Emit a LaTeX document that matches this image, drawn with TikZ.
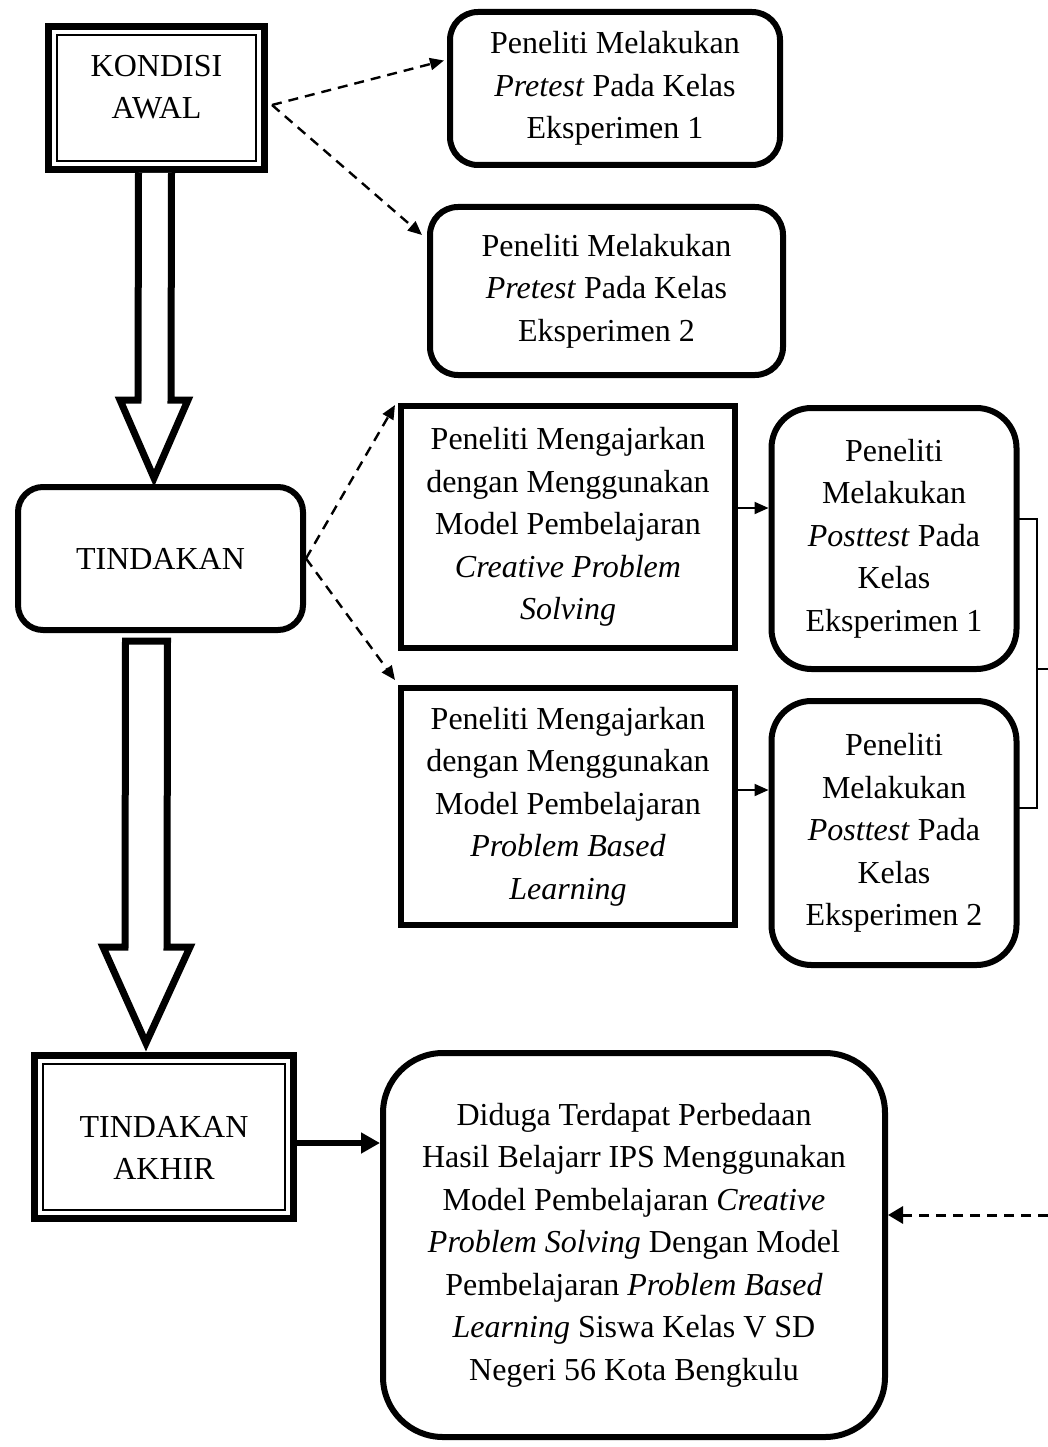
\documentclass[tikz,border=0pt]{standalone}
\usepackage{fontspec}
\setmainfont{Liberation Serif}
\usetikzlibrary{arrows.meta,positioning}

\begin{document}
\begin{tikzpicture}[x=1pt, y=-1pt, thick,
    every node/.style={font=\fontsize{32}{42.5}\selectfont, align=center, inner sep=0pt},
    rbox/.style={draw, line width=6pt, rounded corners=28pt},
    sbox/.style={draw, line width=6pt},
    dbox/.style={draw, line width=7pt},
    dboxin/.style={draw, line width=2.5pt},
    blockarrow/.style={draw, fill=white, line width=7pt, line join=miter},
    dasharrow/.style={dash pattern=on 10pt off 7pt, line width=2.4pt, -{Triangle[length=14pt,width=12pt]}},
    smallarrow/.style={line width=2pt, -{Triangle[length=14pt,width=12pt]}},
    mainarrow/.style={line width=5.5pt, -{Triangle[length=19pt,width=20pt]}}]
    \useasboundingbox (0,0) rectangle (1048,1447);

    % kotak kondisi di kiri
    \node[dbox, minimum width=216, minimum height=143] (kondisi) at (156.5, 98) {};
    \node[dboxin, minimum width=199, minimum height=126, label={[yshift=11pt]center:{KONDISI\\AWAL}}] (kondisidalam) at (kondisi.center) {};
    \node[rbox, rounded corners=25pt, minimum width=285, minimum height=143] (tindakan) at (160.5, 558.5) {TINDAKAN};
    \node[dbox, minimum width=259, minimum height=163] (akhir) at (164, 1137) {};
    \node[dboxin, minimum width=242, minimum height=146, label={[yshift=-11pt]center:{TINDAKAN\\AKHIR}}] (akhirdalam) at (akhir.center) {};

    % pretest
    \node[rbox, minimum width=330, minimum height=153] (pre1) at (615, 88.5) {Peneliti Melakukan\\\textit{Pretest} Pada Kelas\\Eksperimen 1};
    \node[rbox, minimum width=353, minimum height=168] (pre2) at (606.5, 291) {Peneliti Melakukan\\\textit{Pretest} Pada Kelas\\Eksperimen 2};

    % perlakuan
    \node[sbox, minimum width=334, minimum height=242] (cps) at (568, 527) {Peneliti Mengajarkan\\dengan Menggunakan\\Model Pembelajaran\\\textit{Creative Problem}\\\textit{Solving}};
    \node[sbox, minimum width=334, minimum height=237] (pbl) at (568, 806.5) {Peneliti Mengajarkan\\dengan Menggunakan\\Model Pembelajaran\\\textit{Problem Based}\\\textit{Learning}};

    % posttest
    \node[rbox, rounded corners=40pt, minimum width=245, minimum height=261] (post1) at (894, 538.5) {Peneliti\\Melakukan\\\textit{Posttest} Pada\\Kelas\\Eksperimen 1};
    \node[rbox, rounded corners=40pt, minimum width=245, minimum height=264] (post2) at (894, 833) {Peneliti\\Melakukan\\\textit{Posttest} Pada\\Kelas\\Eksperimen 2};

    % hipotesis
    \node[rbox, rounded corners=60pt, minimum width=502, minimum height=384] (hasil) at (634, 1245) {Diduga Terdapat Perbedaan\\Hasil Belajarr IPS Menggunakan\\Model Pembelajaran \textit{Creative}\\\textit{Problem Solving} Dengan Model\\Pembelajaran \textit{Problem Based}\\\textit{Learning} Siswa Kelas V SD\\Negeri 56 Kota Bengkulu};

    % panah besar
    \draw[blockarrow] ([xshift=-18]kondisi.south) -- (138,400) -- (120,400) -- (154,478) -- (188,400) -- (171,400) -- ([xshift=15]kondisi.south);
    \draw[blockarrow] ([xshift=-35,yshift=-8]tindakan.south) -- (125,947) -- (103,947) -- (146,1043) -- (190,947) -- (167,947) -- ([xshift=7,yshift=-8]tindakan.south) -- cycle;

    % panah putus-putus
    \draw[dasharrow] ([xshift=4,yshift=-7]kondisi.east) -- ([xshift=-3,yshift=28]pre1.west);
    \draw[dasharrow] ([xshift=4,yshift=-7]kondisi.east) -- ([xshift=-5,yshift=56]pre2.west);
    \draw[dasharrow] (tindakan.east) -- ([xshift=-3,yshift=-2]cps.north west);
    \draw[dasharrow] (tindakan.east) -- ([xshift=-3,yshift=5]pbl.north west);

    \draw[smallarrow] ([yshift=19]cps.east) -- ([yshift=19]cps.east -| post1.west);
    \draw[smallarrow] ([yshift=16.5]pbl.east) -- ([yshift=16.5]pbl.east -| post2.west);
    \draw[mainarrow] ([yshift=-6]akhir.east) -- ([yshift=-6]akhir.east -| hasil.west);

    % kurung kanan
    \draw[line width=1.5pt] (1019,519) -- (1037,519) -- (1037,808) -- (1019,808);
    \coordinate (kanan) at (1048,669);
    \draw[line width=1.5pt] (1037,669) -- (kanan);
    \coordinate (masuk) at (1048,1215);
    \draw[dasharrow, line width=3pt, -{Triangle[length=15pt,width=17pt]}] (masuk) -- (masuk -| hasil.east);
\end{tikzpicture}
\end{document}
